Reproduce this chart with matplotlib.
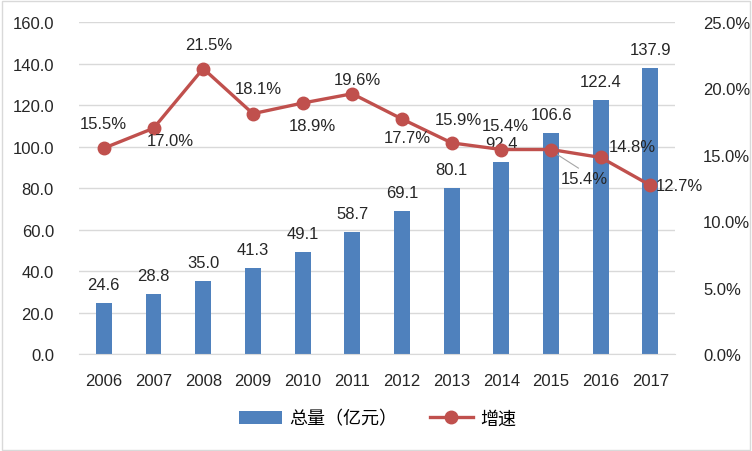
import matplotlib
matplotlib.use("Agg")
import matplotlib.pyplot as plt
from matplotlib.patches import Rectangle
from matplotlib.ticker import FuncFormatter, MultipleLocator

plt.rcParams["font.family"] = ["Liberation Sans", "Noto Sans CJK SC", "DejaVu Sans"]

# ---- data ----
years = ["2006", "2007", "2008", "2009", "2010", "2011",
         "2012", "2013", "2014", "2015", "2016", "2017"]
total = [24.6, 28.8, 35.0, 41.3, 49.1, 58.7, 69.1, 80.1, 92.4, 106.6, 122.4, 137.9]
growth = [15.5, 17.0, 21.5, 18.1, 18.9, 19.6, 17.7, 15.9, 15.4, 15.4, 14.8, 12.7]

# label offsets (points) for the growth labels
growth_off = [(0, 18), (12, -9), (4, 17), (4, 18), (7, -16), (4, 10),
              (4, -13), (5, 17), (3, 17), (24, -21), (23, 8), (21, 0)]

BAR_C = "#4F81BD"
LINE_C = "#C0504D"
FS = 12

fig = plt.figure(figsize=(7.52, 4.52), dpi=100)
ax = fig.add_axes([0.105, 0.2146, 0.793, 0.7344])
ax2 = ax.twinx()

x = list(range(len(years)))
ax.bar(x, total, width=0.32, color=BAR_C, zorder=2, label="总量（亿元）")
for xi, v in zip(x, total):
    ax.annotate(f"{v:.1f}", (xi, v), xytext=(0, 8), textcoords="offset points",
                ha="center", va="bottom", fontsize=FS, color="#262626")

ax2.plot(x, growth, color=LINE_C, lw=2.4, marker="o", markersize=9,
         zorder=3, label="增速")
for xi, v, off in zip(x, growth, growth_off):
    ax2.annotate(f"{v:.1f}%", (xi, v), xytext=off, textcoords="offset points",
                 ha="center", va="center", fontsize=FS, color="#262626")
# leader line for 2015 label
ax2.plot([9.05, 9.55], [15.2, 14.0], color="#A6A6A6", lw=0.8, zorder=1)

ax.set_xlim(-0.5, len(years) - 0.5)
ax.set_ylim(0, 160)
ax2.set_ylim(0, 25)
ax.yaxis.set_major_locator(MultipleLocator(20))
ax2.yaxis.set_major_locator(MultipleLocator(5))
ax.yaxis.set_major_formatter(FuncFormatter(lambda v, p: f"{v:.1f}"))
ax2.yaxis.set_major_formatter(FuncFormatter(lambda v, p: f"{v:.1f}%"))
ax.set_xticks(x)
ax.set_xticklabels(years)

ax.grid(axis="y", color="#D9D9D9", lw=1, zorder=0)
ax.set_axisbelow(True)
for a in (ax, ax2):
    for s in a.spines.values():
        s.set_visible(False)
    a.tick_params(length=0, labelsize=FS, colors="#262626")
ax.spines["bottom"].set_visible(True)
ax.spines["bottom"].set_color("#D9D9D9")
ax.tick_params(axis="y", pad=18)
ax2.tick_params(axis="y", pad=20)
ax.tick_params(axis="x", pad=14)

h1, l1 = ax.get_legend_handles_labels()
h2, l2 = ax2.get_legend_handles_labels()
fig.legend(h1 + h2, l1 + l2, loc="center", bbox_to_anchor=(0.502, 0.071),
           ncol=2, frameon=False, fontsize=13, handlelength=2.4,
           handleheight=0.7, columnspacing=1.8, handletextpad=0.4)

fig.patches.append(Rectangle((0.002, 0.003), 0.995, 0.993, transform=fig.transFigure,
                             fill=False, edgecolor="#D9D9D9", lw=1))

fig.savefig("out.png", dpi=100)
